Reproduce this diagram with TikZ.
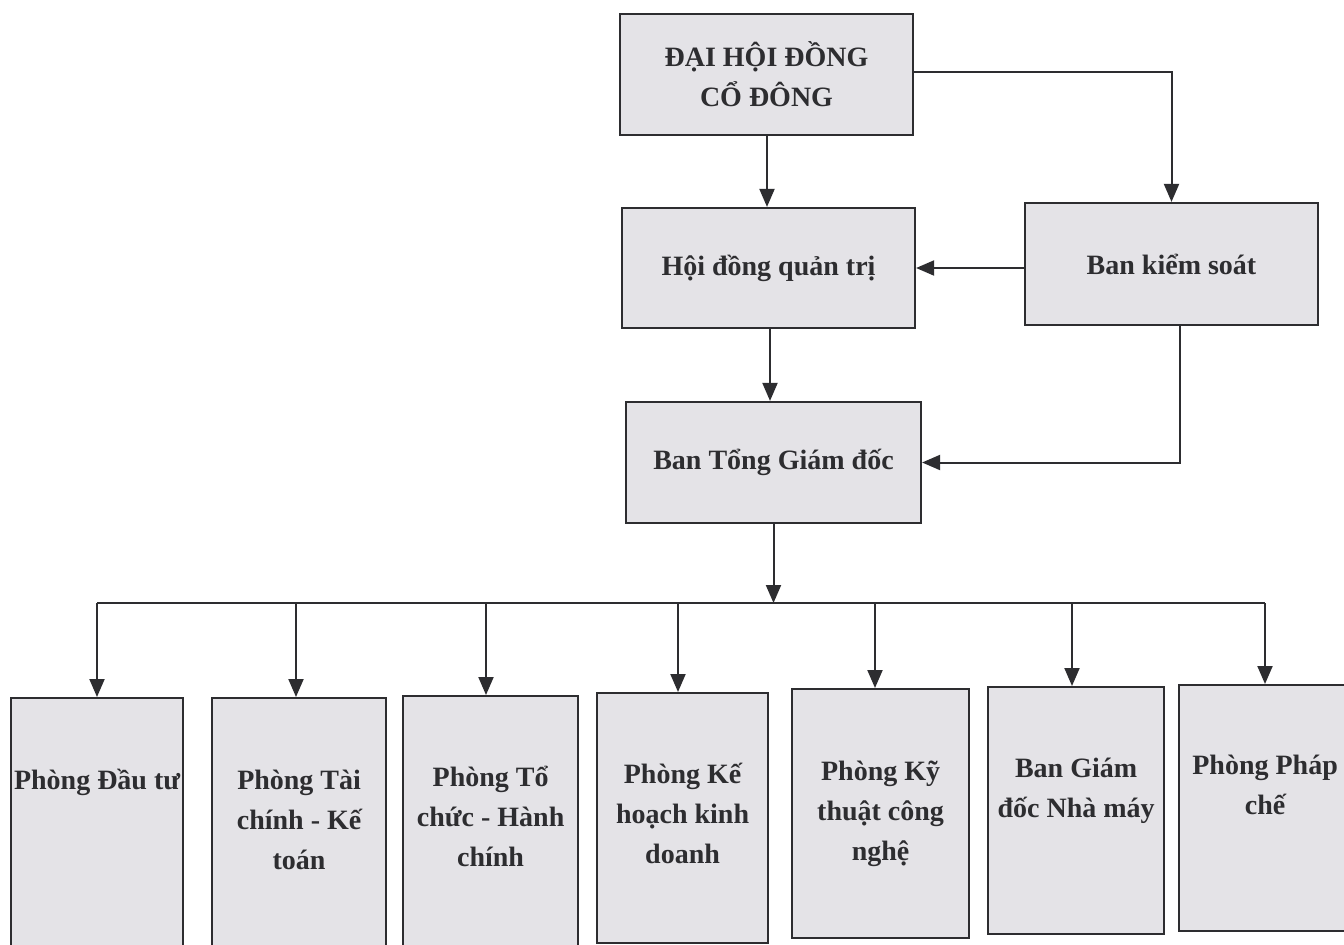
\documentclass[tikz,border=0pt]{standalone}
\usepackage{fontspec}
\setmainfont{Liberation Serif}
\usetikzlibrary{arrows.meta}
\definecolor{boxgray}{RGB}{228,227,231}
\definecolor{ink}{RGB}{45,45,48}
\begin{document}
\begin{tikzpicture}[x=1pt,y=-1pt,
  box/.style={draw=ink, fill=boxgray, line width=2.2pt, inner sep=0pt,
    font=\bfseries\fontsize{28}{40}\selectfont, align=center, text=ink},
  conn/.style={draw=ink, line width=2pt},
  arr/.style={conn, -{Triangle[width=15pt,length=18pt]}}]
\useasboundingbox (0,0) rectangle (1344,945);
\fill[white] (0,0) rectangle (1344,945);
% top boxes
\node[box, minimum width=293pt, minimum height=121pt] (dh) at (766.5,74.5) {ĐẠI HỘI ĐỒNG\\CỔ ĐÔNG};
\node[box, minimum width=293pt, minimum height=120pt] (hd) at (768.5,268) {Hội đồng quản trị};
\node[box, minimum width=293pt, minimum height=122pt] (bk) at (1171.5,264) {Ban kiểm soát};
\node[box, minimum width=295pt, minimum height=121pt] (tg) at (773.5,462.5) {Ban Tổng Giám đốc};
% bottom boxes
\node[box, anchor=north west] (p1) at (10,697) {\parbox[t][253pt][t]{172pt}{\centering\vspace*{63pt}\strut Phòng Đầu tư}};
\node[box, anchor=north west] (p2) at (211,697) {\parbox[t][253pt][t]{174pt}{\centering\vspace*{63pt}\strut Phòng Tài\\chính - Kế\\toán}};
\node[box, anchor=north west] (p3) at (402,695) {\parbox[t][255pt][t]{175pt}{\centering\vspace*{62pt}\strut Phòng Tổ\\chức - Hành\\chính}};
\node[box, anchor=north west] (p4) at (596,692) {\parbox[t][250pt][t]{171pt}{\centering\vspace*{62pt}\strut Phòng Kế\\hoạch kinh\\doanh}};
\node[box, anchor=north west] (p5) at (791,688) {\parbox[t][249pt][t]{177pt}{\centering\vspace*{63pt}\strut Phòng Kỹ\\thuật công\\nghệ}};
\node[box, anchor=north west] (p6) at (987,686) {\parbox[t][247pt][t]{176pt}{\centering\vspace*{62pt}\strut Ban Giám\\đốc Nhà máy}};
\node[box, anchor=north west] (p7) at (1178,684) {\parbox[t][246pt][t]{172pt}{\centering\vspace*{61pt}\strut Phòng Pháp\\chế}};
% coordinates
\coordinate (bus) at (773.5,603);
\coordinate (busL) at (97,603);
\coordinate (busR) at (1265,603);
% connectors
\draw[arr] (dh.south -| 767,0) -- (hd.north -| 767,0);
\draw[arr] (dh.east |- 0,72) -| (bk.north);
\draw[arr] (bk.west |- 0,268) -- (hd.east);
\draw[arr] (hd.south -| 770,0) -- (tg.north -| 770,0);
\draw[arr] (bk.south -| 1180,0) |- (tg.east);
\draw[arr] (tg.south) -- (bus);
\draw[conn] (busL) -- (busR);
\draw[arr] (busL) -- (p1.north -| busL);
\draw[arr] (bus -| 296,0) -- (p2.north -| 296,0);
\draw[arr] (bus -| 486,0) -- (p3.north -| 486,0);
\draw[arr] (bus -| 678,0) -- (p4.north -| 678,0);
\draw[arr] (bus -| 875,0) -- (p5.north -| 875,0);
\draw[arr] (bus -| 1072,0) -- (p6.north -| 1072,0);
\draw[arr] (busR) -- (p7.north -| busR);
\end{tikzpicture}
\end{document}
